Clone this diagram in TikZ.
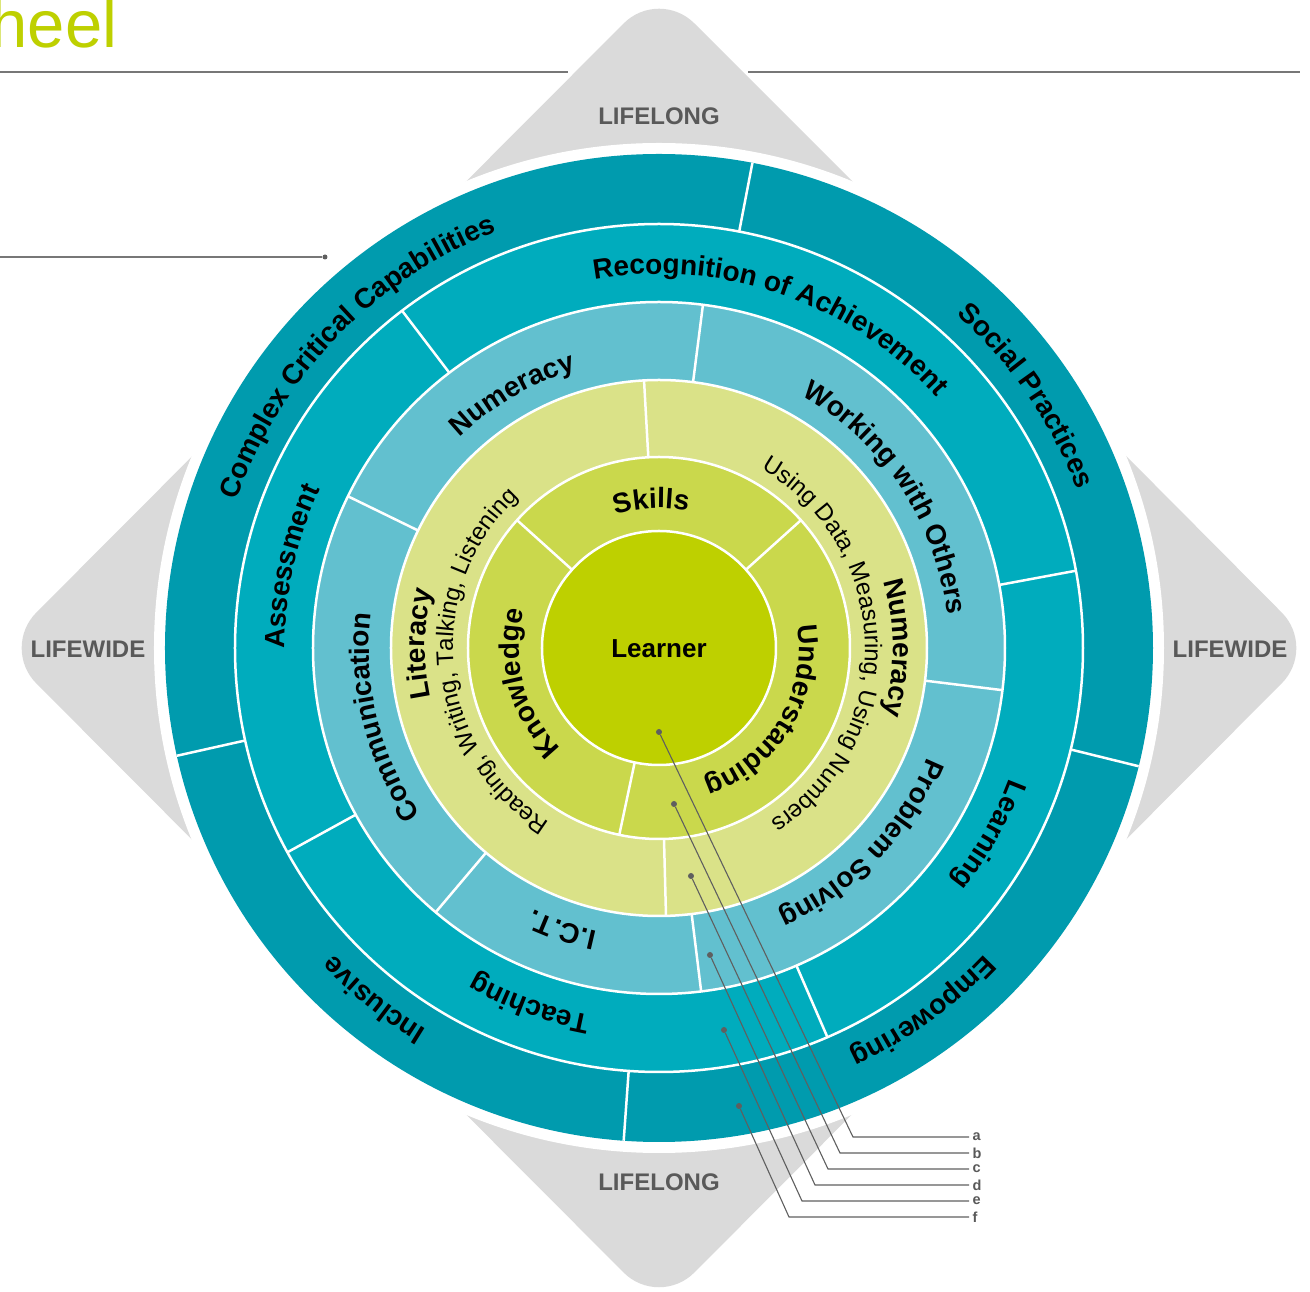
\documentclass[tikz,border=0pt]{standalone}
\usepackage{fontspec}
\setmainfont{Liberation Sans}
\usetikzlibrary{decorations.text}
\definecolor{cLearner}{RGB}{190,208,0}
\definecolor{cRingB}{RGB}{202,216,76}
\definecolor{cRingC}{RGB}{218,226,136}
\definecolor{cRingD}{RGB}{98,192,207}
\definecolor{cRingE}{RGB}{0,172,189}
\definecolor{cRingF}{RGB}{0,155,174}
\definecolor{cGray}{RGB}{218,218,218}
\definecolor{cGrayText}{RGB}{89,89,89}
\definecolor{cLine}{RGB}{95,95,95}
\newcommand{\ringfont}{\fontsize{28}{32}\selectfont\bfseries}
\newcommand{\subfont}{\fontsize{24}{28}\selectfont}
\newcommand{\ringtext}[4]{%
  \path[decorate,decoration={text along path,text align=center,text={|#3|#4}}]
    ({#2+85}:#1) arc[start angle={#2+85},end angle={#2-85},radius=#1];}
\newcommand{\divider}[3]{\draw[divline] (#1:#2) -- (#1:#3);}
\begin{document}
\begin{tikzpicture}[x=1pt,y=1pt,
  divline/.style={white,line width=2.5pt},
  ringedge/.style={white,line width=2.5pt},
  topline/.style={draw=cLine!85,line width=1.6pt},
  leader/.style={draw=cLine,line width=1.1pt},
  leaderdot/.style={circle,fill=cLine,inner sep=0pt,minimum size=6pt},
  leaderlab/.style={font=\fontsize{14.5}{15}\selectfont\bfseries,text=cGrayText,inner sep=3.5pt,anchor=west},
  lifetext/.style={font=\fontsize{24}{26}\selectfont\bfseries,text=cGrayText}]
\useasboundingbox (-659,-644) rectangle (651,648);
% background diamond
\fill[cGray,rounded corners=50pt] (330,330) -- (0,660) -- (-658,0) -- (0,-660) -- (658,0) -- cycle;
% top lines and title
\coordinate (ta) at (-659,576);
\coordinate (tb) at (-91,576);
\coordinate (tc) at (89,576);
\coordinate (td) at (641,576);
\draw[topline] (ta) -- (tb);
\draw[topline] (tc) -- (td);
\coordinate (sa) at (-659,391);
\node[leaderdot,minimum size=5pt] (sdot) at (-334,391) {};
\draw[topline] (sa) -- (sdot);
\node[anchor=base east,inner sep=0pt,text=cLearner,font=\fontsize{67}{70}\selectfont] (title) at (-541.5,600) {heel};
% white gap and rings
\fill[white] (0,0) circle[radius=505];
\fill[cRingF] (0,0) circle[radius=494];
\fill[cRingE] (0,0) circle[radius=424];
\fill[cRingD] (0,0) circle[radius=346];
\fill[cRingC] (0,0) circle[radius=268];
\fill[cRingB] (0,0) circle[radius=191];
\fill[cLearner] (0,0) circle[radius=117];
\foreach \r in {424,346,268,191,117} \draw[ringedge] (0,0) circle[radius=\r];
% dividers
\divider{42}{117}{191}\divider{138}{117}{191}\divider{258}{117}{191}
\divider{93.2}{191}{268}\divider{271.5}{191}{268}
\divider{82.7}{268}{346}\divider{154}{268}{346}\divider{229.8}{268}{346}\divider{277}{268}{346}\divider{353}{268}{346}
\divider{10.5}{346}{424}\divider{127.3}{346}{424}\divider{208.8}{346}{424}\divider{293.4}{346}{424}
\divider{79.1}{424}{494}\divider{192.6}{424}{494}\divider{265.9}{424}{494}\divider{346.15}{424}{494}
% LIFELONG / LIFEWIDE
\node[lifetext] (lltop) at (0,532) {LIFELONG};
\node[lifetext] (llbot) at (0,-534) {LIFELONG};
\node[lifetext] (lwleft) at (-571,-1) {LIFEWIDE};
\node[lifetext] (lwright) at (571,-1) {LIFEWIDE};
% centre
\node[font=\fontsize{26}{30}\selectfont\bfseries] (learner) at (0,-1) {Learner};
% ring 2
\ringtext{140}{93}{\ringfont}{Skills}
\ringtext{140}{195}{\ringfont}{Knowledge}
\ringtext{140}{-31}{\ringfont}{Understanding}
% ring 3
\ringtext{234}{179}{\ringfont}{Literacy}
\ringtext{206}{185.5}{\subfont}{Reading, Writing, Talking, Listening}
\ringtext{234}{0}{\ringfont}{Numeracy}
\ringtext{206}{1.5}{\subfont}{Using Data, Measuring, Using Numbers}
% ring 4
\ringtext{290}{120}{\ringfont}{Numeracy}
\ringtext{290}{33.5}{\ringfont}{Working with Others}
\ringtext{290}{-44}{\ringfont}{Problem Solving}
\ringtext{290}{251}{\ringfont}{I.C.T.}
\ringtext{290}{194}{\ringfont}{Communication}
% ring 5
\ringtext{374}{71}{\ringfont}{Recognition of Achievement}
\ringtext{374}{-29.5}{\ringfont}{Learning}
\ringtext{374}{250}{\ringfont}{Teaching}
\ringtext{374}{167.5}{\ringfont}{Assessment}
% ring 6
\ringtext{447}{136}{\ringfont}{Complex Critical Capabilities}
\ringtext{447}{34.5}{\ringfont}{Social Practices}
\ringtext{447}{-54}{\ringfont}{Empowering}
\ringtext{447}{231}{\ringfont}{Inclusive}
% leader lines a-f
\node[leaderdot] (da) at (0,-84) {};
\node[leaderdot] (db) at (15,-156) {};
\node[leaderdot] (dc) at (32,-228) {};
\node[leaderdot] (dd) at (51,-307) {};
\node[leaderdot] (de) at (65,-382) {};
\node[leaderdot] (df) at (80,-458) {};
\coordinate (ba) at (194,-489);
\coordinate (bb) at (181,-505);
\coordinate (bc) at (169,-521);
\coordinate (bd) at (156,-537);
\coordinate (be) at (143,-553);
\coordinate (bf) at (130,-569);
\node[leaderlab] (la) at (310,-489) {a};
\node[leaderlab] (lb) at (310,-505) {b};
\node[leaderlab] (lc) at (310,-521) {c};
\node[leaderlab] (ld) at (310,-537) {d};
\node[leaderlab] (le) at (310,-553) {e};
\node[leaderlab] (lf) at (310,-569) {f};
\draw[leader] (da) -- (ba) -- (la.west);
\draw[leader] (db) -- (bb) -- (lb.west);
\draw[leader] (dc) -- (bc) -- (lc.west);
\draw[leader] (dd) -- (bd) -- (ld.west);
\draw[leader] (de) -- (be) -- (le.west);
\draw[leader] (df) -- (bf) -- (lf.west);
\end{tikzpicture}
\end{document}
